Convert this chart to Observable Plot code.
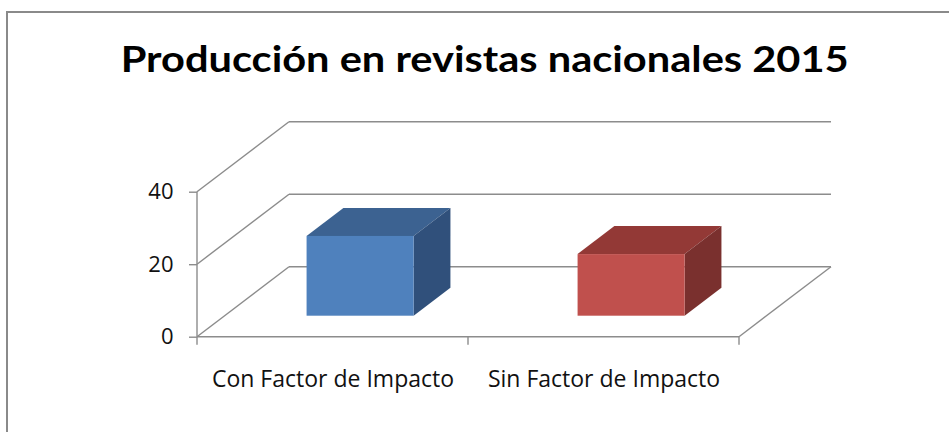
<!DOCTYPE html>
<html>
<head>
<meta charset="utf-8">
<script src="https://cdn.jsdelivr.net/npm/d3@7"></script>
<script src="https://cdn.jsdelivr.net/npm/@observablehq/plot@0.6"></script>
<style>
  html, body { margin: 0; padding: 0; background: #fff; }
  #wrap { position: relative; width: 949px; height: 432px; overflow: hidden; background: #fff; }
  #border { position: absolute; left: 6px; top: 11px; width: 1000px; height: 1000px; border: 2px solid #8a8a8a; box-sizing: border-box; }
  #title { position: absolute; left: 0; top: 0; white-space: nowrap; font-family: Lato, sans-serif; font-weight: bold; font-size: 37px; color: #000; line-height: 1; transform-origin: 0 0; }
  #chart { position: absolute; left: 0; top: 100px; }
  #chart svg { overflow: visible; }
</style>
</head>
<body>
<div id="wrap">
  <div id="border"></div>
  <div id="title">Producción en revistas nacionales 2015</div>
  <div id="chart"></div>
</div>
<script>
// ---- data ----
const categories = ["Con Factor de Impacto", "Sin Factor de Impacto"];
const counts = [22, 17];
const yTicks = [0, 20, 40];
const yMax = 40;
const frontColors = ["#4F81BD", "#C0504D"];
const topColors = ["#3C6291", "#933936"];
const sideColors = ["#30507B", "#7A302E"];

// ---- 3D styling ----
const DX = 92, DY = -70;       // depth offset of back wall (px)
const Z0 = 0.3, Z1 = 0.7;      // bar depth position
const BAR_W = 0.395;           // bar width fraction of band
const GRID = "#8c8c8c";

const W = 949, H = 332, ML = 197, MR = 210, MT = 91.7, MB = 95.3;
const bandPx = (W - ML - MR) / categories.length;
const inset = bandPx * (1 - BAR_W) / 2;

const table = categories.map((c, i) => ({cat: c, value: counts[i], i}));

function frame3d(index, scales) {
  const x = scales.x, y = scales.y;
  const bw = typeof x.bandwidth === "function" ? x.bandwidth() : x.bandwidth;
  const x0 = x(categories[0]);
  const x1 = x(categories[categories.length - 1]) + bw;
  const y0 = y(0);
  const g = d3.create("svg:g").attr("fill", "none").attr("stroke", GRID).attr("stroke-width", 1.4);
  const line = (a, b, c, d) => g.append("line").attr("x1", a).attr("y1", b).attr("x2", c).attr("y2", d);
  for (const t of yTicks) {
    const yy = y(t);
    line(x0 + DX, yy + DY, x1 + DX, yy + DY);
    line(x0, yy, x0 + DX, yy + DY);
  }
  line(x1, y0, x1 + DX, y0 + DY);
  line(x0, y0, x1, y0);
  line(x0, y(yMax), x0, y0);
  const edges = [x0, ...categories.map(c => x(c) + bw)];
  for (const e of edges) line(e, y0, e, y0 + 8);
  // bar top and side faces
  const faces = d3.create("svg:g");
  categories.forEach((c, i) => {
    const cx = x(c) + bw / 2, w = bw * BAR_W;
    const fl = cx - w / 2 + Z0 * DX, fr = cx + w / 2 + Z0 * DX;
    const ft = y(counts[i]) + Z0 * DY, fb = y0 + Z0 * DY;
    const ddx = (Z1 - Z0) * DX, ddy = (Z1 - Z0) * DY;
    faces.append("path").attr("fill", topColors[i])
      .attr("d", `M${fl},${ft}L${fr},${ft}L${fr + ddx},${ft + ddy}L${fl + ddx},${ft + ddy}Z`);
    faces.append("path").attr("fill", sideColors[i])
      .attr("d", `M${fr},${ft}L${fr + ddx},${ft + ddy}L${fr + ddx},${fb + ddy}L${fr},${fb}Z`);
  });
  const root = d3.create("svg:g");
  root.append(() => g.node());
  root.append(() => faces.node());
  return root.node();
}

const chart = Plot.plot({
  width: W, height: H,
  marginLeft: ML, marginRight: MR, marginTop: MT, marginBottom: MB,
  style: {fontFamily: "'Open Sans', sans-serif", background: "transparent", overflow: "visible"},
  x: {type: "band", domain: categories, padding: 0, axis: null},
  y: {domain: [0, yMax], axis: null},
  marks: [
    frame3d,
    Plot.barY(table, {x: "cat", y: "value", fill: d => frontColors[d.i],
      insetLeft: inset, insetRight: inset, dx: Z0 * DX, dy: Z0 * DY}),
    Plot.axisY({ticks: yTicks, tickSize: 8, tickPadding: 16, stroke: GRID, strokeWidth: 1.4,
      fontSize: 22, fill: "#111", label: null, tickFormat: d => String(d)}),
    Plot.axisX({tickSize: 0, tickPadding: 33, fontSize: 23, fill: "#111", label: null})
  ]
});
document.getElementById("chart").appendChild(chart);

// fit title to measured width/position
const title = document.getElementById("title");
const tw = title.getBoundingClientRect().width;
const sx = 728 / tw;
title.style.transform = `translate(120.7px, 39px) scaleX(${sx})`;
</script>
</body>
</html>
